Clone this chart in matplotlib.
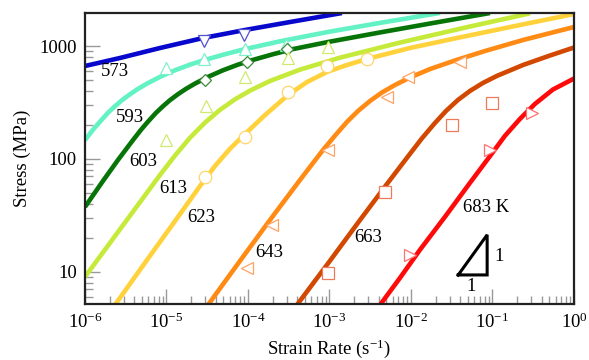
import numpy as np
import matplotlib.pyplot as plt
from matplotlib.ticker import FixedLocator, LogLocator, NullFormatter

plt.rcParams['font.family'] = 'Liberation Serif'
plt.rcParams['mathtext.fontset'] = 'custom'
plt.rcParams['mathtext.rm'] = 'Liberation Serif'
plt.rcParams['mathtext.default'] = 'regular'

temps = ['573', '593', '603', '613', '623', '643', '663', '683 K']
colors = ['#0808cc', '#62f2c4', '#067406', '#c6ea3a', '#ffd23c', '#ff8a14', '#d24800', '#ff0a0a']
mcolors = ['#5050d0', '#80f0cc', '#3a8a3a', '#d0ec70', '#ffd66a', '#ffa266', '#ee7a5a', '#ff7070']
markers = ['v', '^', 'D', '^', 'o', '<', 's', '>']

# curves (strain rate in 1/s, stress in MPa)
rate_573 = [1e-6, 2.68e-6, 8.32e-6, 2.81e-5, 9.18e-5, 3.27e-4, 1.42e-3]
stress_573 = [665, 783, 960, 1177, 1386, 1630, 1959]
rate_593 = [1e-6, 1.25e-6, 1.53e-6, 1.91e-6, 2.33e-6, 2.84e-6, 3.56e-6, 4.47e-6, 5.77e-6,
            8.32e-6, 1.27e-5, 1.94e-5, 2.81e-5, 5.22e-5, 9.18e-5, 2.47e-4, 1.01e-3,
            4.80e-3, 2.27e-2]
stress_593 = [147, 181, 214, 256, 293, 331, 374, 417, 465, 533, 610, 684, 745, 846, 939,
              1101, 1341, 1630, 1963]
rate_603 = [1e-6, 1.66e-6, 2.54e-6, 3.88e-6, 4.86e-6, 5.93e-6, 7.43e-6, 9.06e-6, 1.10e-5,
            1.38e-5, 1.73e-5, 2.24e-5, 3.23e-5, 4.94e-5, 7.53e-5, 1.09e-4, 2.03e-4,
            3.56e-4, 9.59e-4, 3.94e-3, 1.86e-2, 9.32e-2]
stress_603 = [37.6, 63.8, 98, 147, 181, 214, 256, 293, 331, 374, 417, 465, 533, 610, 684,
              745, 846, 939, 1085, 1309, 1598, 1959]
rate_613 = [1e-6, 3.10e-6, 8.32e-6, 1.27e-5, 1.94e-5, 2.97e-5, 4.53e-5, 6.92e-5, 1.06e-4,
            1.86e-4, 4.35e-4, 1.35e-3, 7.33e-3, 5.29e-2, 0.288]
stress_613 = [9.04, 27.4, 72.1, 107, 154, 210, 272, 337, 403, 490, 618, 789, 1072, 1488, 1946]
rate_623 = [2.33e-6, 6.28e-6, 1.47e-5, 2.58e-5, 3.94e-5, 6.01e-5, 9.18e-5, 1.62e-4,
            3.10e-4, 5.30e-4, 9.31e-4, 1.64e-3, 2.88e-3, 9.72e-3, 3.66e-2, 0.217, 1.0]
stress_623 = [5.1, 13.9, 32.6, 57.7, 86.7, 123, 166, 245, 368, 480, 589, 679, 768, 960,
              1177, 1534, 1919]
rate_643 = [3.23e-5, 7.97e-5, 1.86e-4, 4.35e-4, 8.32e-4, 1.17e-3, 1.64e-3, 2.24e-3,
            3.14e-3, 4.41e-3, 6.37e-3, 9.72e-3, 1.71e-2, 3.47e-2, 8.09e-2, 0.237, 1.0]
stress_643 = [5.1, 12.5, 28.8, 65.2, 120, 161, 213, 266, 326, 388, 452, 526, 625, 745,
              903, 1130, 1473]
rate_663 = [3.99e-4, 1.01e-3, 2.37e-3, 5.08e-3, 9.72e-3, 1.36e-2, 1.92e-2, 2.69e-2,
            3.77e-2, 5.29e-2, 7.64e-2, 0.113, 0.237, 0.508, 1.0]
stress_663 = [5.1, 12.5, 28.8, 60.1, 111, 152, 204, 266, 333, 400, 471, 543, 679, 824, 970]
rate_683 = [4.17e-3, 7.33e-3, 1.29e-2, 2.61e-2, 5.29e-2, 9.32e-2, 0.142, 0.217,
            0.332, 0.552, 1.0]
stress_683 = [5.1, 8.85, 15.7, 30.7, 61.4, 106, 160, 226, 307, 412, 515]

# measured points
mx_573 = [2.88e-5, 8.93e-5]
my_573 = [1107, 1251]
mx_593 = [9.86e-6, 2.88e-5, 9.18e-5, 2.92e-4]
my_593 = [638, 768, 941, 1021]
mx_603 = [2.97e-5, 9.72e-5, 3.01e-4]
my_603 = [500, 722, 941]
mx_613 = [9.86e-6, 3.05e-5, 9.18e-5, 3.10e-4, 9.57e-4]
my_613 = [147, 294, 532, 783, 980]
mx_623 = [2.97e-5, 9.18e-5, 3.10e-4, 9.31e-4, 2.88e-3]
my_623 = [69.3, 157, 392, 665, 768]
mx_643 = [9.72e-5, 1.97e-4, 9.57e-4, 5.08e-3, 9.18e-3, 3.99e-2]
my_643 = [10.8, 26.1, 120, 354, 532, 722]
mx_663 = [9.57e-4, 4.80e-3, 3.19e-2, 9.86e-2]
my_663 = [9.8, 51.1, 200, 313]
mx_683 = [9.72e-3, 9.32e-2, 0.306]
my_683 = [14.1, 120, 255]

curves = [(rate_573, stress_573), (rate_593, stress_593), (rate_603, stress_603),
          (rate_613, stress_613), (rate_623, stress_623), (rate_643, stress_643),
          (rate_663, stress_663), (rate_683, stress_683)]
points = [(mx_573, my_573), (mx_593, my_593), (mx_603, my_603), (mx_613, my_613),
          (mx_623, my_623), (mx_643, my_643), (mx_663, my_663), (mx_683, my_683)]

label_x = [2.33e-6, 3.56e-6, 5.15e-6, 1.20e-5, 2.65e-5, 1.81e-4, 2.96e-3, 8.32e-2]
label_y = [589, 231, 95.9, 55.3, 30.1, 15.0, 20.0, 36.8]

fig = plt.figure(figsize=(5.89, 3.6), dpi=100)
ax = fig.add_axes([0.1443, 0.1556, 0.8302, 0.8083])

for (xs, ys), c in zip(curves, colors):
    ax.plot(xs, ys, color=c, lw=3.3, solid_capstyle='butt', solid_joinstyle='round', zorder=2)
for (xs, ys), c, m in zip(points, mcolors, markers):
    ax.plot(xs, ys, ls='none', marker=m, ms=9 if m != 'D' else 6.5, mfc='white',
            mec=c, mew=0.9, zorder=3)
for t, lx, ly in zip(temps, label_x, label_y):
    ax.text(lx, ly, t, fontsize=13.5, ha='center', va='center', zorder=4)

# slope triangle
tri_x = [0.038, 0.086, 0.086, 0.038]
tri_y = [9.4, 9.4, 21.3, 9.4]
ax.plot(tri_x, tri_y, color='black', lw=2.2, solid_joinstyle='miter', zorder=4)
ax.text(0.120, 13.6, '1', fontsize=13.5, ha='center', va='center')
ax.text(0.0545, 7.36, '1', fontsize=13.5, ha='center', va='center')

ax.set_xscale('log')
ax.set_yscale('log')
ax.set_xlim(1e-6, 1)
ax.set_ylim(5.2, 1960)

ax.xaxis.set_major_locator(FixedLocator([1e-6, 1e-5, 1e-4, 1e-3, 1e-2, 1e-1, 1]))
ax.set_xticklabels(['10$^{-6}$', '10$^{-5}$', '10$^{-4}$', '10$^{-3}$',
                    '10$^{-2}$', '10$^{-1}$', '10$^{0}$'])
ax.xaxis.set_minor_locator(LogLocator(base=10, subs=np.arange(2, 10), numticks=20))
ax.xaxis.set_minor_formatter(NullFormatter())
ax.yaxis.set_major_locator(FixedLocator([10, 100, 1000]))
ax.set_yticklabels(['10', '100', '1000'])
ax.yaxis.set_minor_locator(LogLocator(base=10, subs=np.arange(2, 10), numticks=20))
ax.yaxis.set_minor_formatter(NullFormatter())

ax.tick_params(which='major', direction='in', length=11, width=1.0, color='#999999',
               labelsize=13.5, pad=6, top=False, right=False)
ax.tick_params(which='minor', direction='in', length=5.5, width=1.0, color='#999999',
               top=False, right=False)
for s in ax.spines.values():
    s.set_linewidth(1.6)
    s.set_color('#222222')

ax.set_xlabel('Strain Rate (s$^{-1}$)', fontsize=13.5, labelpad=4)
ax.set_ylabel('Stress (MPa)', fontsize=13.5, labelpad=6)

fig.savefig('out.png', dpi=100)
